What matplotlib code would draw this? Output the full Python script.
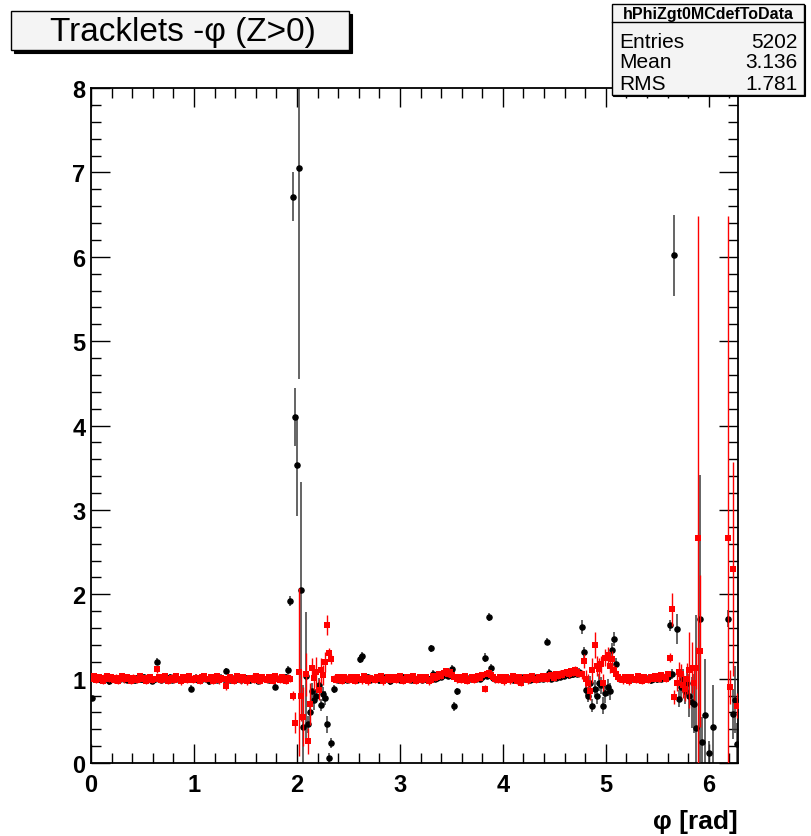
"""
Tracklet phi distribution: MC / data ratio for Z > 0.
"""

import numpy as np
import matplotlib
matplotlib.use("Agg")
import matplotlib.pyplot as plt
from matplotlib.patches import Rectangle
from matplotlib.ticker import MultipleLocator

nan = float("nan")

FIG_W, FIG_H = 811, 837
N_BINS = 300

# Ratio histogram drawn with black circles, 300 bins over 0..2pi
ratio_black = [
    0.77, 1.00, 0.99, 1.01, 0.98, 1.00, 1.02, 0.99, 0.97, 1.00, 1.01, 0.98, 1.00, 0.99, 1.02, 1.00, 0.98, 1.01, 0.99, 1.00,
    0.98, 1.01, 1.00, 0.99, 1.02, 0.98, 1.00, 1.01, 0.97, 0.99, 1.20, 1.00, 0.98, 1.01, 0.99, 1.00, 1.02, 0.98, 0.99, 1.01,
    1.00, 0.98, 1.01, 0.99, 1.00, 1.02, 0.88, 0.99, 1.01, 0.98, 1.00, 0.99, 1.01, 1.00, 0.97, 1.00, 1.02, 0.99, 0.98, 1.00,
    1.01, 0.99, 1.09, 1.00, 0.98, 1.01, 0.99, 1.00, 1.02, 0.98, 1.00, 0.99, 1.01, 0.98, 1.00, 1.02, 0.99, 0.97, 1.00, 1.01,
    0.99, 1.00, 0.98, 1.01, 1.00, 0.90, 0.99, 1.01, 1.00, 0.98, 1.02, 1.10, 1.92, 6.71, 4.10, 3.53, 7.05, 2.05, 0.43, 1.03,
    0.46, 0.60, 0.85, 0.75, 0.80, 0.93, 0.69, 0.82, 0.77, 0.46, 0.06, 0.24, 0.88, 1.00, 0.98, 1.01, 0.99, 1.00, 0.98, 1.01,
    1.00, 0.99, 1.01, 0.98, 1.23, 1.27, 1.00, 0.99, 1.02, 0.98, 1.00, 1.01, 0.99, 0.98, 1.00, 1.02, 0.99, 1.00, 0.97, 1.00,
    1.01, 0.99, 1.00, 0.98, 1.02, 1.00, 0.99, 1.01, 0.98, 1.00, 0.99, 1.01, 1.00, 0.98, 1.02, 0.99, 1.00, 1.36, 1.06, 1.00,
    1.01, 1.03, 1.02, 1.04, 1.05, 1.03, 1.06, 1.12, 0.67, 0.85, 1.02, 1.00, 0.99, 1.01, 0.98, 1.00, 1.02, 0.99, 1.00, 1.01,
    1.00, 1.02, 1.25, 1.03, 1.73, 1.13, 1.01, 0.99, 1.00, 1.02, 0.98, 1.00, 1.01, 0.99, 1.00, 0.98, 1.01, 1.00, 0.99, 1.02,
    0.99, 1.00, 1.01, 0.98, 1.00, 1.02, 0.99, 1.00, 1.01, 0.99, 1.02, 1.44, 1.07, 1.00, 1.02, 1.01, 1.03, 1.02, 1.04, 1.03,
    1.05, 1.04, 1.06, 1.05, 1.07, 1.06, 1.08, 1.61, 1.31, 0.86, 0.80, 0.95, 0.68, 0.88, 0.80, 0.95, 0.92, 0.68, 0.83, 0.90,
    0.85, 1.34, 1.47, 1.17, 1.02, 1.00, 0.99, 1.01, 1.00, 0.98, 1.01, 0.99, 1.00, 1.02, 0.98, 1.00, 0.99, 1.01, 1.00, 0.98,
    1.00, 1.01, 0.99, 1.02, 1.00, 1.01, 1.03, 1.02, 1.63, 1.05, 6.02, 1.59, 0.76, 0.90, 1.00, 0.85, 0.95, 0.80, 0.72, 0.70,
    0.42, nan, 1.71, 0.25, 0.57, nan, 0.12, nan, 0.43, nan, nan, nan, nan, nan, nan, 1.71, nan, 0.58, 0.75, 0.22,
]
err_black = [
    0.03, 0.03, 0.04, 0.03, 0.03, 0.04, 0.03, 0.03, 0.04, 0.03, 0.03, 0.04, 0.03, 0.03, 0.04, 0.03, 0.03, 0.04, 0.03, 0.03,
    0.04, 0.03, 0.03, 0.04, 0.03, 0.03, 0.04, 0.03, 0.03, 0.04, 0.04, 0.03, 0.03, 0.04, 0.03, 0.03, 0.04, 0.03, 0.03, 0.04,
    0.03, 0.04, 0.03, 0.03, 0.04, 0.03, 0.04, 0.03, 0.04, 0.03, 0.03, 0.04, 0.03, 0.03, 0.04, 0.03, 0.03, 0.04, 0.03, 0.04,
    0.04, 0.03, 0.04, 0.03, 0.03, 0.04, 0.03, 0.03, 0.04, 0.03, 0.03, 0.04, 0.03, 0.04, 0.03, 0.03, 0.04, 0.03, 0.03, 0.04,
    0.03, 0.04, 0.03, 0.03, 0.04, 0.04, 0.03, 0.03, 0.04, 0.03, 0.04, 0.05, 0.06, 0.29, 0.34, 0.60, 2.50, 1.28, 0.49, 0.76,
    0.10, 0.12, 0.10, 0.12, 0.08, 0.08, 0.07, 0.08, 0.08, 0.10, 0.06, 0.06, 0.05, 0.04, 0.03, 0.03, 0.04, 0.03, 0.03, 0.04,
    0.03, 0.04, 0.03, 0.03, 0.05, 0.05, 0.03, 0.04, 0.03, 0.03, 0.04, 0.03, 0.03, 0.04, 0.03, 0.04, 0.03, 0.03, 0.04, 0.03,
    0.03, 0.04, 0.03, 0.03, 0.04, 0.03, 0.03, 0.04, 0.03, 0.04, 0.03, 0.03, 0.04, 0.03, 0.03, 0.04, 0.03, 0.04, 0.04, 0.03,
    0.03, 0.04, 0.03, 0.04, 0.04, 0.03, 0.04, 0.04, 0.05, 0.04, 0.03, 0.03, 0.04, 0.03, 0.03, 0.04, 0.03, 0.03, 0.04, 0.03,
    0.03, 0.04, 0.05, 0.04, 0.05, 0.04, 0.03, 0.03, 0.04, 0.03, 0.03, 0.04, 0.03, 0.03, 0.04, 0.03, 0.04, 0.03, 0.03, 0.04,
    0.03, 0.03, 0.04, 0.03, 0.04, 0.03, 0.03, 0.04, 0.03, 0.03, 0.04, 0.04, 0.04, 0.03, 0.04, 0.03, 0.04, 0.04, 0.03, 0.04,
    0.04, 0.04, 0.05, 0.04, 0.05, 0.04, 0.05, 0.08, 0.07, 0.07, 0.08, 0.08, 0.08, 0.10, 0.10, 0.10, 0.10, 0.10, 0.12, 0.10,
    0.10, 0.08, 0.08, 0.07, 0.04, 0.04, 0.03, 0.04, 0.03, 0.04, 0.03, 0.03, 0.04, 0.03, 0.04, 0.03, 0.03, 0.04, 0.03, 0.04,
    0.04, 0.03, 0.04, 0.04, 0.03, 0.04, 0.04, 0.05, 0.06, 0.06, 0.48, 0.18, 0.10, 0.12, 0.12, 0.15, 0.15, 0.25, 0.30, 0.35,
    1.33, nan, 1.70, 0.30, 0.66, nan, 0.14, nan, 0.49, nan, nan, nan, nan, nan, nan, 0.10, nan, 0.30, 0.40, 0.25,
]

# Ratio histogram drawn with red squares, same binning
ratio_red = [
    1.00, 1.03, 0.98, 1.02, 1.00, 0.97, 1.01, 1.03, 0.99, 1.02, 0.98, 1.01, 0.97, 1.00, 1.03, 0.99, 1.02, 1.00, 0.97, 1.01,
    1.00, 0.98, 1.03, 1.00, 1.01, 0.97, 1.00, 1.02, 0.98, 1.00, 1.11, 1.02, 0.98, 1.00, 1.03, 0.97, 1.00, 1.01, 0.98, 1.03,
    1.00, 0.97, 1.02, 1.00, 0.98, 1.03, 1.00, 0.98, 1.01, 1.00, 0.97, 1.02, 1.03, 0.99, 1.00, 1.02, 0.97, 1.00, 1.03, 0.98,
    1.01, 1.00, 0.91, 0.98, 1.02, 1.00, 0.97, 1.03, 1.00, 0.98, 1.02, 1.00, 0.97, 1.01, 1.00, 0.98, 1.03, 1.00, 0.97, 1.02,
    1.00, 0.98, 1.02, 1.00, 0.97, 1.03, 1.00, 0.98, 1.02, 1.00, 0.97, 1.01, 1.00, 0.80, 0.48, nan, 1.08, 0.80, 0.55, 1.05,
    0.26, 0.70, 1.13, 1.01, 1.08, 0.87, 1.10, 1.04, 1.20, 1.64, 1.30, 1.23, 1.00, 0.98, 1.02, 1.00, 0.97, 1.02, 1.00, 0.98,
    1.02, 1.00, 0.97, 1.02, 1.00, 0.98, 1.03, 1.00, 0.97, 1.01, 1.00, 0.98, 1.02, 1.00, 1.03, 0.97, 1.00, 1.02, 0.98, 1.00,
    1.02, 0.98, 1.00, 1.03, 0.97, 1.00, 1.02, 0.98, 1.00, 1.03, 0.97, 1.00, 1.02, 0.98, 1.00, 1.02, 0.97, 0.98, 1.03, 1.01,
    1.02, 1.05, 1.03, 1.07, 1.09, 1.05, 1.08, 1.04, 1.02, 0.99, 1.02, 0.98, 1.00, 1.03, 0.97, 1.00, 1.02, 0.98, 1.00, 1.03,
    1.01, 1.04, 0.88, 1.06, 1.07, 1.04, 1.02, 0.99, 0.98, 1.02, 1.00, 0.97, 1.02, 1.00, 0.98, 1.03, 1.00, 0.97, 1.02, 0.95,
    1.00, 1.02, 0.98, 1.00, 1.03, 1.00, 0.98, 1.02, 1.00, 1.03, 1.01, 0.99, 1.03, 1.04, 1.01, 1.05, 1.03, 1.06, 1.04, 1.07,
    1.08, 1.05, 1.09, 1.07, 1.10, 1.08, 1.06, 1.05, 1.21, 1.00, 0.95, 0.85, 1.10, 1.40, 1.15, 1.12, 1.17, 0.95, 1.25, 1.28,
    1.15, 1.23, 1.10, 1.05, 1.02, 0.99, 0.98, 1.02, 1.00, 0.97, 1.02, 1.00, 0.98, 1.03, 1.00, 0.97, 1.02, 1.00, 0.98, 1.02,
    1.00, 1.03, 1.01, 0.99, 1.04, 1.02, 1.00, 1.05, 1.25, 1.82, 0.78, 0.95, 1.08, 1.05, 0.92, 0.88, 1.00, 1.10, 1.13, 0.95,
    1.13, 2.67, 1.33, nan, nan, nan, nan, nan, nan, nan, nan, nan, nan, nan, nan, 2.67, 0.90, 2.30, nan, 0.68,
]
err_red = [
    0.03, 0.03, 0.03, 0.04, 0.03, 0.03, 0.03, 0.04, 0.03, 0.03, 0.03, 0.04, 0.03, 0.03, 0.03, 0.04, 0.03, 0.03, 0.03, 0.04,
    0.03, 0.03, 0.04, 0.03, 0.03, 0.03, 0.04, 0.03, 0.03, 0.03, 0.04, 0.03, 0.03, 0.04, 0.03, 0.03, 0.03, 0.04, 0.03, 0.03,
    0.03, 0.04, 0.03, 0.03, 0.03, 0.04, 0.03, 0.03, 0.04, 0.03, 0.03, 0.03, 0.04, 0.03, 0.03, 0.04, 0.03, 0.03, 0.03, 0.04,
    0.03, 0.03, 0.04, 0.03, 0.03, 0.04, 0.03, 0.03, 0.03, 0.04, 0.03, 0.03, 0.04, 0.03, 0.03, 0.03, 0.04, 0.03, 0.03, 0.04,
    0.03, 0.03, 0.04, 0.03, 0.03, 0.03, 0.04, 0.03, 0.03, 0.04, 0.03, 0.04, 0.04, 0.05, 0.13, nan, 1.00, 0.30, 0.35, 0.25,
    0.15, 0.25, 0.12, 0.15, 0.18, 0.12, 0.15, 0.12, 0.12, 0.12, 0.06, 0.06, 0.04, 0.03, 0.03, 0.04, 0.03, 0.03, 0.04, 0.03,
    0.03, 0.04, 0.03, 0.03, 0.03, 0.04, 0.03, 0.03, 0.04, 0.03, 0.03, 0.03, 0.04, 0.03, 0.03, 0.04, 0.03, 0.03, 0.03, 0.04,
    0.03, 0.03, 0.04, 0.03, 0.03, 0.04, 0.03, 0.03, 0.03, 0.04, 0.03, 0.03, 0.04, 0.03, 0.03, 0.03, 0.04, 0.03, 0.03, 0.04,
    0.03, 0.03, 0.04, 0.03, 0.04, 0.03, 0.04, 0.03, 0.03, 0.04, 0.03, 0.03, 0.03, 0.04, 0.03, 0.03, 0.04, 0.03, 0.03, 0.03,
    0.03, 0.04, 0.04, 0.03, 0.04, 0.03, 0.03, 0.04, 0.03, 0.03, 0.03, 0.04, 0.03, 0.03, 0.04, 0.03, 0.03, 0.03, 0.04, 0.04,
    0.03, 0.03, 0.04, 0.03, 0.03, 0.04, 0.03, 0.03, 0.03, 0.04, 0.03, 0.03, 0.04, 0.03, 0.04, 0.03, 0.04, 0.04, 0.03, 0.04,
    0.04, 0.04, 0.04, 0.04, 0.05, 0.04, 0.04, 0.05, 0.08, 0.10, 0.10, 0.10, 0.15, 0.15, 0.12, 0.12, 0.10, 0.10, 0.10, 0.10,
    0.08, 0.10, 0.06, 0.05, 0.03, 0.03, 0.04, 0.03, 0.03, 0.04, 0.03, 0.03, 0.03, 0.04, 0.03, 0.03, 0.04, 0.03, 0.03, 0.03,
    0.03, 0.03, 0.04, 0.03, 0.04, 0.03, 0.04, 0.04, 0.05, 0.20, 0.08, 0.10, 0.12, 0.12, 0.15, 0.15, 0.18, 0.45, 0.30, 0.20,
    0.25, 3.81, 0.90, nan, nan, nan, nan, nan, nan, nan, nan, nan, nan, nan, nan, 3.81, 0.20, 1.27, nan, 0.15,
]

TITLE = "Tracklets -\u03c6 (Z>0)"
STATS_NAME = "hPhiZgt0MCdefToData"
STATS_ROWS = [("Entries", "5202"), ("Mean", "3.136"), ("RMS", "1.781")]

NARROW = ["Liberation Sans Narrow", "Liberation Sans"]
BOLD = ["Liberation Sans", "DejaVu Sans"]


def _fig_xy(px, py):
    """Pixel position (top-left origin) -> figure fraction."""
    return px / FIG_W, 1 - py / FIG_H


def _pave(fig, x0, y0, x1, y1, shadow=3):
    """ROOT-like box with a dark shadow on the right and bottom."""
    fx0, fy1 = _fig_xy(x0, y1)
    fx1, fy0 = _fig_xy(x1, y0)
    dx, dy = shadow / FIG_W, shadow / FIG_H
    fig.add_artist(Rectangle((fx0 + dx, fy1 - dy), fx1 - fx0, fy0 - fy1,
                             transform=fig.transFigure, facecolor="black",
                             edgecolor="black", lw=0.8))
    fig.add_artist(Rectangle((fx0, fy1), fx1 - fx0, fy0 - fy1,
                             transform=fig.transFigure, facecolor="#f4f4f4",
                             edgecolor="black", lw=1.0))


def main():
    edges = np.linspace(0, 2 * np.pi, N_BINS + 1)
    phi = 0.5 * (edges[:-1] + edges[1:])

    fig = plt.figure(figsize=(FIG_W / 100, FIG_H / 100), dpi=100)
    fig.patch.set_facecolor("white")
    left, bottom = _fig_xy(91, 764)
    right, top = _fig_xy(738, 89)
    ax = fig.add_axes([left, bottom, right - left, top - bottom])

    ax.errorbar(phi, ratio_black, yerr=err_black, fmt="o", color="black",
                ecolor="#3a3a3a", ms=3.7, elinewidth=1.1, capsize=0, zorder=2)
    ax.errorbar(phi, ratio_red, yerr=err_red, fmt="s", color="#ff0000",
                ecolor="#ff0000", ms=4.8, mew=0, elinewidth=1.0, capsize=0, zorder=3)

    ax.set_xlim(0, 2 * np.pi)
    ax.set_ylim(0, 8)
    ax.xaxis.set_major_locator(MultipleLocator(1))
    ax.xaxis.set_minor_locator(MultipleLocator(0.2))
    ax.yaxis.set_major_locator(MultipleLocator(1))
    ax.yaxis.set_minor_locator(MultipleLocator(0.2))
    ax.tick_params(which="both", direction="in", top=True, right=True, width=1.0)
    ax.tick_params(which="major", length=14)
    ax.tick_params(which="minor", length=7.5)
    ax.tick_params(axis="x", pad=7)
    ax.tick_params(axis="y", pad=4)
    for lab in ax.get_xticklabels() + ax.get_yticklabels():
        lab.set_family(BOLD)
        lab.set_fontweight("bold")
        lab.set_fontsize(17)
    for sp in ax.spines.values():
        sp.set_linewidth(1.3)

    ax.text(1.0, -0.086, "\u03c6 [rad]", transform=ax.transAxes, ha="right",
            va="center", fontsize=19, fontweight="bold", family=BOLD)

    # title pave
    _pave(fig, 11, 12, 349, 51)
    tx, ty = _fig_xy(183, 32)
    fig.text(tx, ty, TITLE, ha="center", va="center", fontsize=24, family=NARROW)

    # statistics box
    _pave(fig, 612, 5, 804, 96, shadow=1)
    lx, ly = _fig_xy(612, 23)
    rx, _ = _fig_xy(804, 23)
    fig.add_artist(plt.Line2D([lx, rx], [ly, ly], transform=fig.transFigure,
                              color="black", lw=1.0))
    nx, ny = _fig_xy(708, 14)
    fig.text(nx, ny, STATS_NAME, ha="center", va="center", fontsize=11.5,
             fontweight="bold", family=NARROW)
    for i, (name, val) in enumerate(STATS_ROWS):
        x0, yr = _fig_xy(619, 42 + 21 * i)
        x1, _ = _fig_xy(798, 42 + 21 * i)
        fig.text(x0, yr, name, ha="left", va="center", fontsize=15, family=NARROW)
        fig.text(x1, yr, val, ha="right", va="center", fontsize=15, family=NARROW)

    fig.savefig("out.png", dpi=100)
    plt.close(fig)


if __name__ == "__main__":
    main()
